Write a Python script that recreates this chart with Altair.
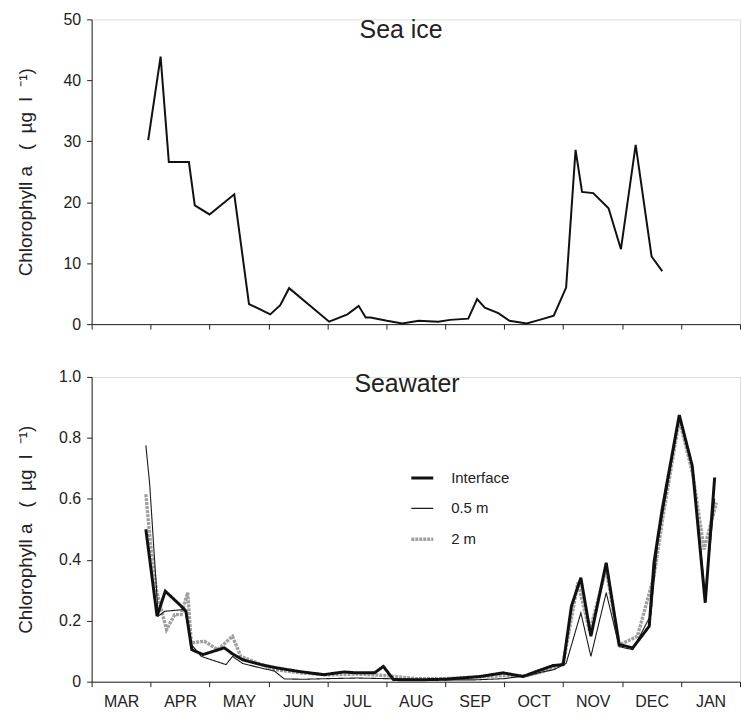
import altair as alt
import pandas as pd

# x positions are in months counted from 1 March (0 = start of MAR, 11 = end of JAN)
months = ["MAR", "APR", "MAY", "JUN", "JUL", "AUG", "SEP", "OCT", "NOV", "DEC", "JAN"]
month_ticks = list(range(12))
month_centers = [i + 0.5 for i in range(11)]

# Sea ice chlorophyll a (ug/l)
ice_t = [0.96, 1.17, 1.31, 1.65, 1.75, 2.0, 2.42, 2.67, 3.03, 3.2, 3.35, 4.03, 4.34, 4.53,
         4.65, 4.73, 5.01, 5.27, 5.55, 5.88, 6.08, 6.39, 6.54, 6.67, 6.9, 7.09, 7.38, 7.6,
         7.84, 8.05, 8.21, 8.32, 8.51, 8.77, 8.98, 9.23, 9.5, 9.68]
ice_v = [30.2, 43.9, 26.6, 26.6, 19.5, 18.0, 21.3, 3.3, 1.6, 3.1, 5.9, 0.4, 1.6, 3.0,
         1.1, 1.1, 0.55, 0.1, 0.55, 0.4, 0.7, 0.9, 4.1, 2.7, 1.8, 0.55, 0.1, 0.7,
         1.4, 6.0, 28.6, 21.7, 21.5, 19.0, 12.3, 29.4, 11.1, 8.7]

# Seawater - Interface
int_t = [0.92, 1.11, 1.25, 1.52, 1.6, 1.7, 1.89, 2.25, 2.4, 2.56, 2.87, 3.15, 3.5, 3.94,
         4.28, 4.5, 4.8, 4.95, 5.12, 5.5, 6.0, 6.59, 6.98, 7.32, 7.55, 7.83, 8.0, 8.14,
         8.3, 8.47, 8.73, 8.95, 9.18, 9.46, 9.54, 9.68, 9.97, 10.19, 10.41, 10.57]
int_v = [0.50, 0.215, 0.297, 0.248, 0.231, 0.105, 0.089, 0.111, 0.09, 0.072, 0.056, 0.045,
         0.034, 0.023, 0.032, 0.029, 0.029, 0.05, 0.007, 0.006, 0.008, 0.017, 0.029, 0.017,
         0.034, 0.053, 0.056, 0.248, 0.341, 0.149, 0.39, 0.122, 0.111, 0.182, 0.39, 0.566,
         0.875, 0.708, 0.259, 0.67]

# Seawater - 0.5 m
m05_t = [0.92, 0.985, 1.13, 1.24, 1.58, 1.7, 1.86, 2.28, 2.39, 2.56, 2.87, 3.1, 3.27, 3.6,
         4.0, 4.5, 5.0, 5.5, 6.0, 6.5, 7.0, 7.4, 7.6, 7.85, 8.05, 8.3, 8.47, 8.73, 8.95,
         9.18, 9.49, 9.6, 9.97, 10.2, 10.41, 10.57]
m05_v = [0.776, 0.648, 0.215, 0.231, 0.237, 0.12, 0.083, 0.056, 0.083, 0.06, 0.045, 0.035,
         0.009, 0.008, 0.01, 0.012, 0.01, 0.008, 0.006, 0.006, 0.01, 0.02, 0.03, 0.04, 0.06,
         0.226, 0.083, 0.292, 0.115, 0.105, 0.22, 0.45, 0.87, 0.7, 0.28, 0.6]

# Seawater - 2 m
m2_t = [0.92, 1.0, 1.1, 1.27, 1.41, 1.52, 1.63, 1.69, 1.91, 2.14, 2.39, 2.53, 2.7, 2.9, 3.1,
        3.5, 4.0, 4.5, 5.0, 5.5, 6.0, 6.5, 7.0, 7.4, 7.6, 7.85, 8.0, 8.25, 8.45, 8.73, 8.95,
        9.26, 9.54, 9.7, 9.97, 10.2, 10.39, 10.6]
m2_v = [0.615, 0.45, 0.3, 0.171, 0.22, 0.22, 0.292, 0.127, 0.133, 0.105, 0.149, 0.083, 0.07,
        0.055, 0.04, 0.03, 0.022, 0.025, 0.02, 0.01, 0.01, 0.015, 0.02, 0.02, 0.03, 0.045,
        0.06, 0.325, 0.165, 0.37, 0.12, 0.149, 0.346, 0.55, 0.86, 0.68, 0.434, 0.588]

series_names = ["Interface", "0.5 m", "2 m"]
series_colors = ["#111111", "#1a1a1a", "#a0a0a0"]
series_widths = [3.0, 1.1, 3.4]
series_dash = [[1, 0], [1, 0], [3, 1]]

FONT = "Liberation Sans"
AX = "#222222"
W, H = 651, 306
NB = "\u00a0"
ytitle = "Chlorophyll a" + NB * 3 + "(" + NB * 2 + "\u00b5g" + NB * 2 + "l" + NB * 2 + "\u207b\u00b9)"

ice_df = pd.DataFrame({"t": ice_t, "v": ice_v})
sw_df = pd.concat([
    pd.DataFrame({"t": m2_t, "v": m2_v, "series": "2 m"}),
    pd.DataFrame({"t": m05_t, "v": m05_v, "series": "0.5 m"}),
    pd.DataFrame({"t": int_t, "v": int_v, "series": "Interface"}),
], ignore_index=True)

xscale = alt.Scale(domain=[0, 11], nice=False, zero=False)


def yaxis(values, expr=None):
    kw = dict(values=values, title=ytitle, grid=False, tickSize=5, labelFontSize=16,
              labelPadding=6, titleFontSize=19, titleFontWeight="normal", titleColor="#222",
              labelColor="#222", domainColor=AX, tickColor=AX, titleX=-66, titleY=H / 2,
              titleAngle=270, titleBaseline="middle", titleAlign="center")
    if expr:
        kw["labelExpr"] = expr
    return alt.Axis(**kw)


tick_axis = alt.Axis(values=month_ticks, labels=False, title=None, grid=False,
                     tickSize=5, domainColor=AX, tickColor=AX)

top_line = alt.Chart(ice_df).mark_line(color="#111", strokeWidth=2).encode(
    x=alt.X("t:Q", scale=xscale, axis=tick_axis),
    y=alt.Y("v:Q", scale=alt.Scale(domain=[0, 50]), axis=yaxis([0, 10, 20, 30, 40, 50])),
)
top_title = alt.Chart(pd.DataFrame({"t": [5.25], "v": [47.0], "label": ["Sea ice"]})).mark_text(
    fontSize=25, font=FONT, color="#222", baseline="alphabetic", align="center"
).encode(x=alt.X("t:Q", scale=xscale), y=alt.Y("v:Q", scale=alt.Scale(domain=[0, 50])), text="label:N")
top = alt.layer(top_line, top_title).properties(width=W, height=H)

month_expr = str(months) + "[floor(datum.value)]"
label_axis = alt.Axis(values=month_centers, labelExpr=month_expr, labelFlush=False,
                      labelOverlap=False, labelFontSize=16, labelPadding=12, labelColor="#222",
                      title=None, grid=False, ticks=False, domain=False, orient="bottom")

leg = alt.Legend(title=None, orient="none", legendX=319, legendY=448, symbolType="stroke",
                 symbolSize=484, labelFontSize=15, labelColor="#222", labelOffset=16,
                 rowPadding=10)

bot_line = alt.Chart(sw_df).mark_line().encode(
    x=alt.X("t:Q", scale=xscale, axis=tick_axis),
    y=alt.Y("v:Q", scale=alt.Scale(domain=[0, 1]),
            axis=yaxis([0, 0.2, 0.4, 0.6, 0.8, 1.0],
                       "datum.value == 0 ? '0' : format(datum.value, '.1f')")),
    color=alt.Color("series:N", scale=alt.Scale(domain=series_names, range=series_colors), legend=leg),
    strokeWidth=alt.StrokeWidth("series:N", scale=alt.Scale(type="ordinal", domain=series_names,
                                                            range=series_widths), legend=leg),
    strokeDash=alt.StrokeDash("series:N", scale=alt.Scale(domain=series_names, range=series_dash),
                              legend=leg),
)
bot_title = alt.Chart(pd.DataFrame({"t": [5.35], "v": [0.95], "label": ["Seawater"]})).mark_text(
    fontSize=25, font=FONT, color="#222", baseline="alphabetic", align="center"
).encode(x=alt.X("t:Q", scale=xscale, axis=label_axis),
         y=alt.Y("v:Q", scale=alt.Scale(domain=[0, 1])), text="label:N")
bottom = alt.layer(bot_line, bot_title).resolve_axis(x="independent").properties(width=W, height=H)

chart = alt.vconcat(top, bottom, spacing=35).properties(
    padding={"left": 16, "top": 9, "right": 0, "bottom": 5},
    background="white",
).configure_view(stroke=None).configure(font=FONT)

chart.save("out.html", embed_options={"renderer": "svg", "actions": False})
